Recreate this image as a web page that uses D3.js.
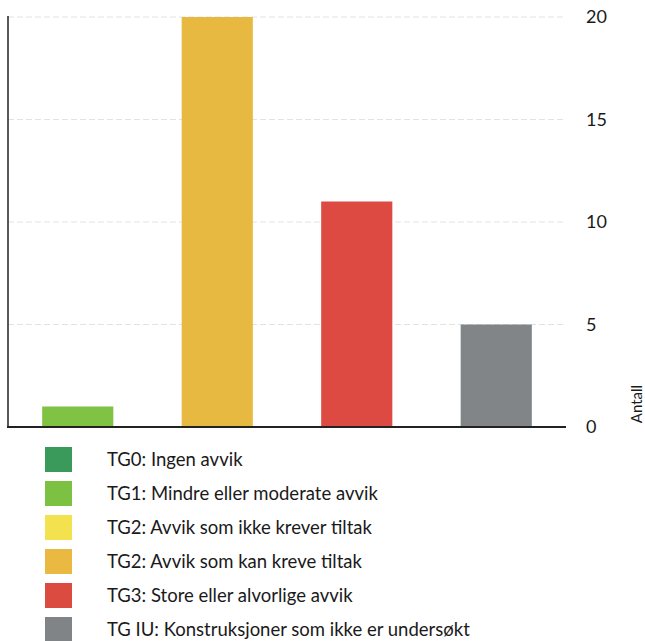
<!DOCTYPE html>
<html>
<head>
<meta charset="utf-8">
<script src="https://cdn.jsdelivr.net/npm/d3@7"></script>
<style>
  body { margin: 0; background: #fff; }
  text { font-family: Lato, "Liberation Sans", sans-serif; fill: #1a1a1a; }
</style>
</head>
<body>
<div id="chart"></div>
<script>
// bars shown in the chart
var barCategories = ["TG1", "TG2 kan", "TG3", "TG IU"];
var barValues = [1, 20, 11, 5];
var barColors = ["#80c243", "#e8b940", "#dc4a42", "#818587"];

// legend
var legendLabels = [
    "TG0: Ingen avvik",
    "TG1: Mindre eller moderate avvik",
    "TG2: Avvik som ikke krever tiltak",
    "TG2: Avvik som kan kreve tiltak",
    "TG3: Store eller alvorlige avvik",
    "TG IU: Konstruksjoner som ikke er undersøkt"
];
var legendColors = ["#3a9a5c", "#7cc142", "#f4e14e", "#e9b941", "#db4b40", "#808486"];

var yTicks = [0, 5, 10, 15, 20];
var yTitle = "Antall";

var W = 645, H = 641;
var plot = { left: 8, right: 566, top: 17, bottom: 427 };

var svg = d3.select("#chart").append("svg")
    .attr("width", W)
    .attr("height", H);

var x = d3.scaleBand()
    .domain(barCategories)
    .range([plot.left, plot.right])
    .paddingInner(0.49)
    .paddingOuter(0.245);

var y = d3.scaleLinear()
    .domain([0, 20])
    .range([plot.bottom, plot.top]);

// faint dashed gridlines
svg.append("g")
    .selectAll("line")
    .data(yTicks.filter(d => d > 0))
    .join("line")
    .attr("x1", plot.left)
    .attr("x2", plot.right - 2)
    .attr("y1", d => y(d))
    .attr("y2", d => y(d))
    .attr("stroke", "#e2e2e2")
    .attr("stroke-width", 1)
    .attr("stroke-dasharray", "6,3");

// bars
svg.append("g")
    .selectAll("rect")
    .data(barValues)
    .join("rect")
    .attr("x", (d, i) => x(barCategories[i]))
    .attr("y", d => y(d))
    .attr("width", x.bandwidth())
    .attr("height", d => plot.bottom - y(d))
    .attr("fill", (d, i) => barColors[i]);

// left axis line
svg.append("line")
    .attr("x1", plot.left).attr("x2", plot.left)
    .attr("y1", plot.top - 1).attr("y2", plot.bottom)
    .attr("stroke", "#222")
    .attr("stroke-width", 1.5);

// baseline
svg.append("line")
    .attr("x1", plot.left - 1).attr("x2", plot.right)
    .attr("y1", plot.bottom).attr("y2", plot.bottom)
    .attr("stroke", "#222")
    .attr("stroke-width", 2);

// right y axis labels
var yAxis = svg.append("g")
    .attr("transform", "translate(" + plot.right + ",0)")
    .call(d3.axisRight(y).tickValues(yTicks).tickSize(0).tickPadding(20));
yAxis.select(".domain").remove();
yAxis.selectAll("text")
    .style("font-family", "Lato, 'Liberation Sans', sans-serif")
    .style("font-size", "18px")
    .attr("fill", "#1a1a1a");

svg.append("text")
    .attr("transform", "translate(642,404) rotate(-90)")
    .attr("text-anchor", "middle")
    .style("font-size", "15px")
    .text(yTitle);

// legend
var legend = svg.append("g")
    .selectAll("g")
    .data(legendLabels)
    .join("g")
    .attr("transform", (d, i) => "translate(45," + (447 + i * 34) + ")");

legend.append("rect")
    .attr("width", 27)
    .attr("height", 25)
    .attr("fill", (d, i) => legendColors[i]);

legend.append("text")
    .attr("x", 62)
    .attr("y", 13)
    .attr("dy", "0.35em")
    .style("font-size", "18.5px")
    .text(d => d);
</script>
</body>
</html>
